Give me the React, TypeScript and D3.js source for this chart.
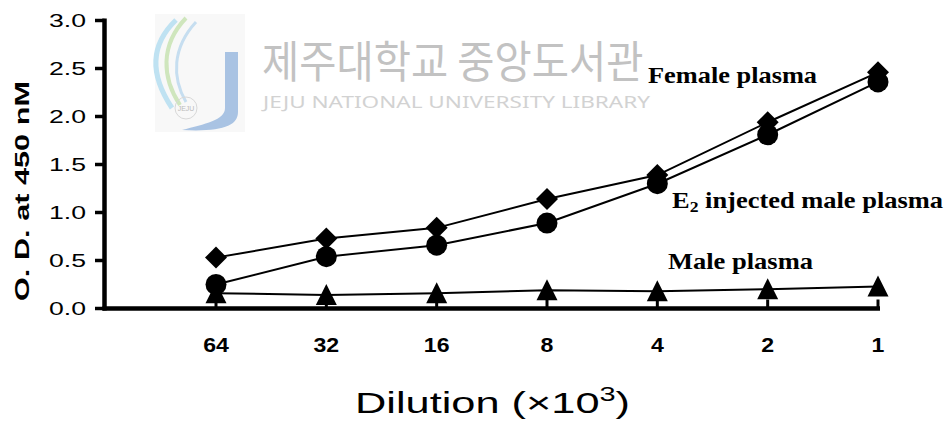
import React from "react"
import { scaleLinear, scalePoint, line, format } from "d3"

// dilution categories (x 10^3)
const categories = ["64", "32", "16", "8", "4", "2", "1"]

// O.D. at 450 nM
const femalePlasma = [0.53, 0.73, 0.84, 1.14, 1.39, 1.94, 2.46]
const e2MalePlasma = [0.25, 0.54, 0.66, 0.89, 1.30, 1.81, 2.36]
const malePlasma = [0.16, 0.14, 0.16, 0.19, 0.18, 0.20, 0.23]

const yTicks = [0, 0.5, 1.0, 1.5, 2.0, 2.5, 3.0]

const W = 949
const H = 430

const axisX = 104.5
const axisY = 308.5

export default function App() {
    const x = scalePoint().domain(categories).range([216, 878])
    const y = scaleLinear().domain([0, 3]).range([axisY, 20.5])
    const fmt = format(".1f")

    const pathOf = (vals) =>
        line()
            .x((d, i) => x(categories[i]))
            .y((d) => y(d))(vals)

    const sans = "'Liberation Sans', Arial, sans-serif"
    const serif = "'Liberation Serif', 'Times New Roman', serif"

    return (
        <svg width={W} height={H} style={{ position: "absolute", left: 0, top: 0, background: "#fff" }}>
            {/* watermark */}
            <g className="watermark">
                <rect x={155} y={14} width={90} height={118} fill="#f8f8f8" />
                <path d="M176,20 C150,45 150,75 172,108" fill="none" stroke="#bfe2f2" strokeWidth={5} />
                <path d="M186,18 C160,45 162,78 180,105" fill="none" stroke="#cfe6bd" strokeWidth={4} />
                <path d="M196,22 C172,48 172,78 186,102" fill="none" stroke="#c6def0" strokeWidth={3} />
                <path d="M225,52 L238,52 L238,112 C238,126 222,132 182,130 C205,124 225,120 225,108 Z" fill="#a9c3e3" />
                <circle cx={186} cy={108} r={11} fill="none" stroke="#d8d8d8" strokeWidth={1} />
                <text x={186} y={111} textAnchor="middle" fontSize={7} fill="#bbb" fontFamily={sans}>JEJU</text>
                <text transform="translate(262,78) scale(0.92,1)" fontSize={44} fill="#c2c2c2"
                    fontFamily="'Noto Sans CJK KR', sans-serif">제주대학교 중앙도서관</text>
                <text x={263} y={108} fontSize={17} fill="#d2d2d2" textLength={387} lengthAdjust="spacingAndGlyphs"
                    fontFamily="'Noto Sans', sans-serif">JEJU NATIONAL UNIVERSITY  LIBRARY</text>
            </g>

            {/* y axis */}
            <line x1={axisX} x2={axisX} y1={18.5} y2={axisY + 2} stroke="#000" strokeWidth={4.5} />
            {yTicks.map((t) => (
                <g key={t}>
                    <line x1={95} x2={axisX} y1={y(t)} y2={y(t)} stroke="#000" strokeWidth={3.5} />
                    <text transform={`translate(86,${y(t)}) scale(1.4,1)`} textAnchor="end" dominantBaseline="central"
                        fontSize={19} fontFamily={sans}>{fmt(t)}</text>
                </g>
            ))}
            <text transform="translate(29,191) rotate(-90)" textAnchor="middle" fontSize={21} fontWeight="bold"
                fontFamily={sans} textLength={220} lengthAdjust="spacingAndGlyphs">O. D. at 450 nM</text>

            {/* x axis */}
            <line x1={axisX - 2} x2={880} y1={axisY} y2={axisY} stroke="#000" strokeWidth={4.5} />
            {categories.map((c) => (
                <g key={c}>
                    <line x1={x(c)} x2={x(c)} y1={axisY} y2={axisY - 9} stroke="#000" strokeWidth={3} />
                    <text transform={`translate(${x(c)},345) scale(1.1,1)`} textAnchor="middle" dominantBaseline="central"
                        fontSize={21} fontWeight="bold" fontFamily={sans}>{c}</text>
                </g>
            ))}
            <text x={355} y={413} fontSize={30} fontFamily={sans} textLength={275} lengthAdjust="spacingAndGlyphs">
                Dilution (×10<tspan dy={-12} fontSize={20}>3</tspan><tspan dy={12}>)</tspan>
            </text>

            {/* series lines */}
            <path d={pathOf(malePlasma)} fill="none" stroke="#000" strokeWidth={2} />
            <path d={pathOf(femalePlasma)} fill="none" stroke="#000" strokeWidth={2} />
            <path d={pathOf(e2MalePlasma)} fill="none" stroke="#000" strokeWidth={2} />

            {/* markers */}
            {malePlasma.map((v, i) => (
                <path key={"m" + i} transform={`translate(${x(categories[i])},${y(v)})`}
                    d="M0,-11 L10.5,10 L-10.5,10 Z" fill="#000" />
            ))}
            {femalePlasma.map((v, i) => (
                <path key={"f" + i} transform={`translate(${x(categories[i])},${y(v)})`}
                    d="M0,-11 L11,0 L0,11 L-11,0 Z" fill="#000" />
            ))}
            {e2MalePlasma.map((v, i) => (
                <circle key={"e" + i} cx={x(categories[i])} cy={y(v)} r={10.5} fill="#000" />
            ))}

            {/* series labels */}
            <text x={648} y={83} fontSize={22.5} fontWeight="bold" fontFamily={serif}
                textLength={169} lengthAdjust="spacingAndGlyphs">Female plasma</text>
            <text x={672} y={208} fontSize={22.5} fontWeight="bold" fontFamily={serif}
                textLength={271} lengthAdjust="spacingAndGlyphs">
                E<tspan dy={4} fontSize={15}>2</tspan><tspan dy={-4}> injected male plasma</tspan>
            </text>
            <text x={668} y={269} fontSize={22.5} fontWeight="bold" fontFamily={serif}
                textLength={145} lengthAdjust="spacingAndGlyphs">Male plasma</text>
        </svg>
    )
}
